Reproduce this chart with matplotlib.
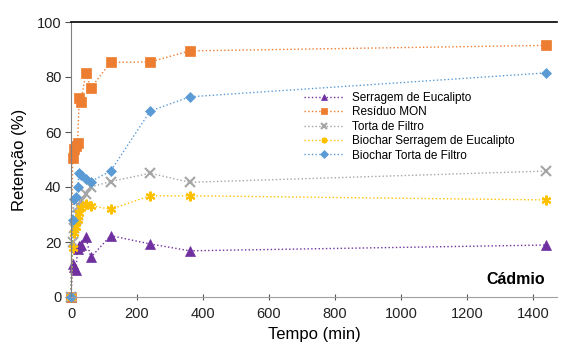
import matplotlib
matplotlib.use("Agg")
import matplotlib.pyplot as plt

plt.rcParams['font.family'] = ['Liberation Sans', 'DejaVu Sans']

tempo = [0, 5, 10, 15, 20, 25, 30, 45, 60, 120, 240, 360, 1440]
serragem = [0, 12, 11, 9.8, 17.5, 18.5, 19, 21.7, 14.4, 22.3, 19.3, 16.8, 18.9]
residuo = [0, 50.5, 54, 55, 56, 72.5, 71, 81.5, 76, 85.3, 85.5, 89.5, 91.5]
torta = [0, 20, 25, 28, 30, 33, 35, 37.5, 40, 42, 45, 41.7, 45.8]
bio_serragem = [0, 17.7, 23.2, 25.6, 28, 30.5, 32.4, 33.8, 33.2, 31.9, 36.8, 36.8, 35.3]
bio_torta = [0, 28, 35.5, 36.5, 40, 45, 44.5, 43, 42, 45.8, 67.6, 72.8, 81.5]

labels = ["Serragem de Eucalipto", "Resíduo MON", "Torta de Filtro",
          "Biochar Serragem de Eucalipto", "Biochar Torta de Filtro"]
colors = ["#7030A0", "#ED7D31", "#A5A5A5", "#FFC000", "#5B9BD5"]
markers = ["^", "s", "x", (6, 2, 0), "D"]
sizes = [6.5, 6.5, 6.5, 7, 5]
series = [serragem, residuo, torta, bio_serragem, bio_torta]

fig = plt.figure(figsize=(5.61, 3.47), dpi=100)
ax = fig.add_axes([71 / 561, 50 / 347, 486 / 561, 275 / 347])

for s, lab, c, m, ms in zip(series, labels, colors, markers, sizes):
    ax.plot(tempo, s, linestyle=':', color=c, linewidth=1.0, marker=m,
            markersize=ms, markeredgewidth=1.5 if m in ("x", (6, 2, 0)) else 0.5,
            markeredgecolor=c, markerfacecolor=c, label=lab, clip_on=False)

ax.set_xlim(0, 1473)
ax.set_ylim(0, 100)
ax.set_xticks(range(0, 1401, 200))
ax.set_yticks(range(0, 101, 20))
ax.tick_params(axis='both', labelsize=10.5, colors='#555555', labelcolor='#222222')
ax.tick_params(axis='x', direction='inout', length=5, width=0.8, pad=5)
ax.tick_params(axis='y', direction='out', length=4, width=0.8, pad=3)
ax.spines['right'].set_visible(False)
ax.spines['top'].set_color('black')
ax.spines['top'].set_linewidth(1.2)
ax.spines['left'].set_color('#808080')
ax.spines['bottom'].set_color('#A0A0A0')

ax.set_xlabel("Tempo (min)", fontsize=12, labelpad=4)
ax.set_ylabel("Retenção (%)", fontsize=12, labelpad=7)

leg = ax.legend(loc='upper left', bbox_to_anchor=(0.48, 0.745), frameon=False,
                fontsize=8.5, handlelength=3.4, handletextpad=0.6,
                labelspacing=0.2, borderaxespad=0, borderpad=0)
for h in leg.legend_handles:
    h.set_markersize(4)

ax.text(0.975, 0.035, "Cádmio", transform=ax.transAxes, ha='right', va='bottom',
        fontsize=11.5, fontweight='bold')

fig.savefig("out.png", dpi=100)
